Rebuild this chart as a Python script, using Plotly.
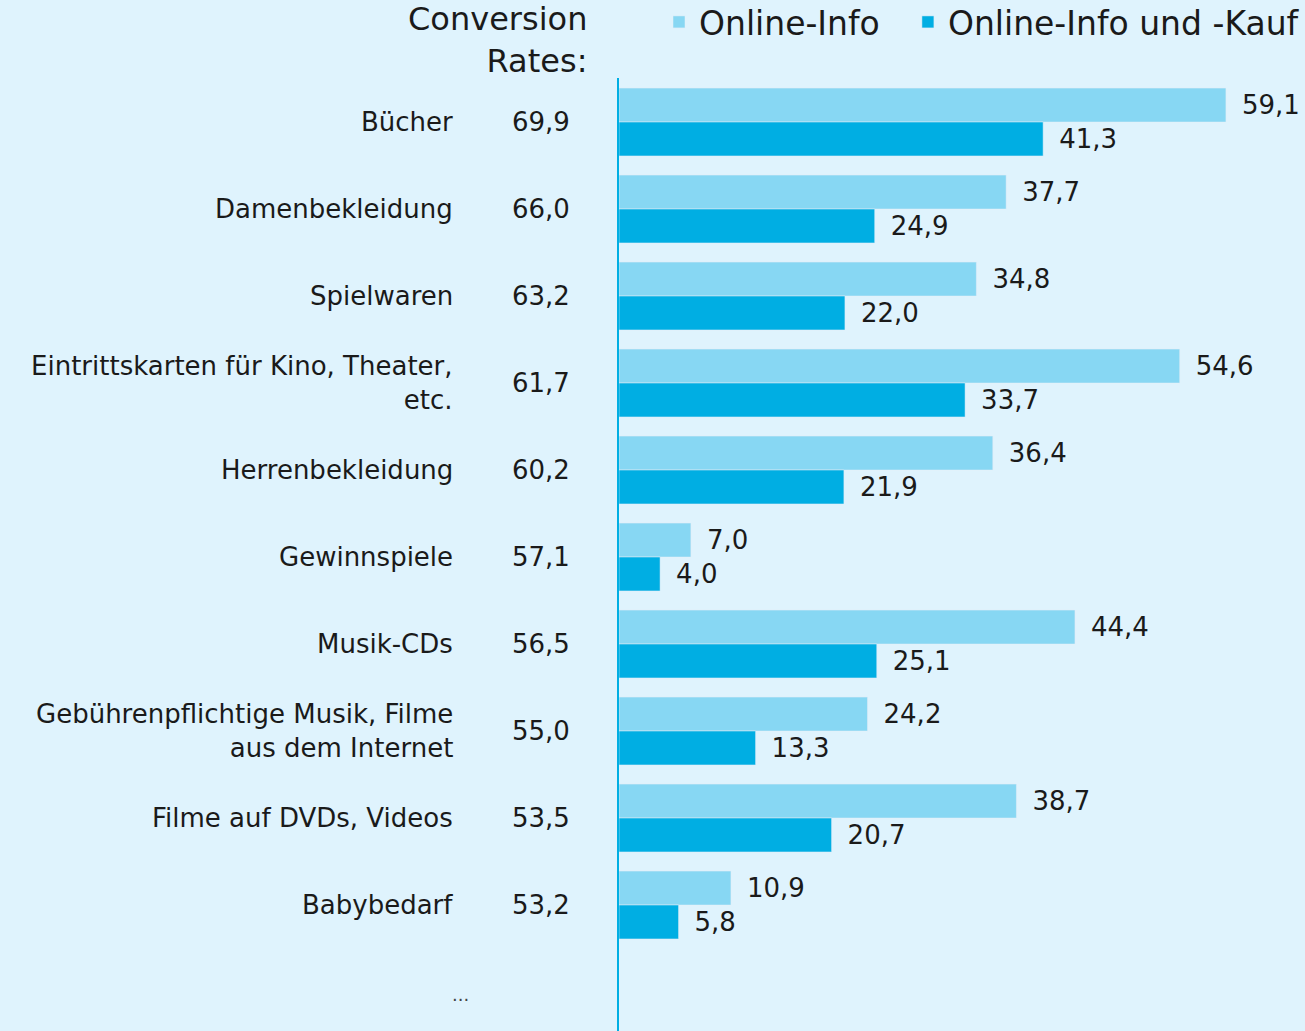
import plotly.graph_objects as go

categories = ["Bücher", "Damenbekleidung", "Spielwaren",
              "Eintrittskarten für Kino, Theater, etc.", "Herrenbekleidung",
              "Gewinnspiele", "Musik-CDs",
              "Gebührenpflichtige Musik, Filme aus dem Internet",
              "Filme auf DVDs, Videos", "Babybedarf", "..."]
category_labels = ["Bücher", "Damenbekleidung", "Spielwaren",
                   "Eintrittskarten für Kino, Theater,<br>etc.", "Herrenbekleidung",
                   "Gewinnspiele", "Musik-CDs",
                   "Gebührenpflichtige Musik, Filme<br>aus dem Internet",
                   "Filme auf DVDs, Videos", "Babybedarf", "..."]
conversion_rates = [69.9, 66.0, 63.2, 61.7, 60.2, 57.1, 56.5, 55.0, 53.5, 53.2, None]
online_info = [59.1, 37.7, 34.8, 54.6, 36.4, 7.0, 44.4, 24.2, 38.7, 10.9, None]
online_kauf = [41.3, 24.9, 22.0, 33.7, 21.9, 4.0, 25.1, 13.3, 20.7, 5.8, None]

LIGHT = "#87D7F3"
DARK = "#00AEE3"
BG = "#DFF3FD"
TXT = "#1a1a1a"
FONT = "DejaVu Sans"
FS = 26


def fmt(v):
    return "" if v is None else f"{v:.1f}".replace(".", ",")


fig = go.Figure()
# trailing spaces widen the gap between the two legend entries
for name, vals, col in [("Online-Info\u2002\u2009", online_info, LIGHT),
                        ("Online-Info und -Kauf", online_kauf, DARK)]:
    fig.add_trace(go.Bar(y=categories, x=vals, orientation="h", name=name,
                         marker_color=col, text=["\u2002" + fmt(v) if v else "" for v in vals],
                         textposition="outside", cliponaxis=False, constraintext="none",
                         textfont=dict(size=FS, color=TXT, family=FONT)))

# left labels and conversion rate column
for cat, lab, rate in zip(categories, category_labels, conversion_rates):
    if cat == "...":
        fig.add_annotation(x=0, xref="paper", y=cat, yref="y", text=lab, showarrow=False,
                           xanchor="right", xshift=-148, yshift=-2,
                           font=dict(size=18, color="#444", family=FONT))
        continue
    fig.add_annotation(x=0, xref="paper", y=cat, yref="y", text=lab, showarrow=False,
                       xanchor="right", align="right", xshift=-164,
                       font=dict(size=FS, color=TXT, family=FONT))
    fig.add_annotation(x=0, xref="paper", y=cat, yref="y", text=fmt(rate),
                       showarrow=False, xanchor="center", xshift=-78,
                       font=dict(size=FS, color=TXT, family=FONT))

fig.add_annotation(x=0, xref="paper", y=1, yref="paper", text="Conversion<br>Rates:",
                   showarrow=False, xanchor="right", yanchor="bottom", align="right",
                   xshift=-30, yshift=-4, font=dict(size=32, color=TXT, family=FONT))

fig.update_layout(
    width=1305, height=1031,
    paper_bgcolor=BG, plot_bgcolor=BG,
    margin=dict(l=619, r=0, t=78, b=0, autoexpand=False),
    barmode="group", bargap=0.22, bargroupgap=0,
    font=dict(family=FONT, color=TXT),
    showlegend=True,
    legend=dict(orientation="h", x=1, xanchor="right", y=1.0588, yref="paper",
                yanchor="middle", font=dict(size=33, color=TXT, family=FONT),
                bgcolor="rgba(0,0,0,0)", itemwidth=30, traceorder="normal"),
    xaxis=dict(range=[0, 66.8], visible=False, fixedrange=True),
    yaxis=dict(range=[10.448, -0.506], showticklabels=False, showgrid=False,
               showline=True, linecolor=DARK, linewidth=2, zeroline=False, ticks=""),
)

fig.write_html("out.html", config={"displayModeBar": False},
               post_script="document.body.style.margin='0';")
